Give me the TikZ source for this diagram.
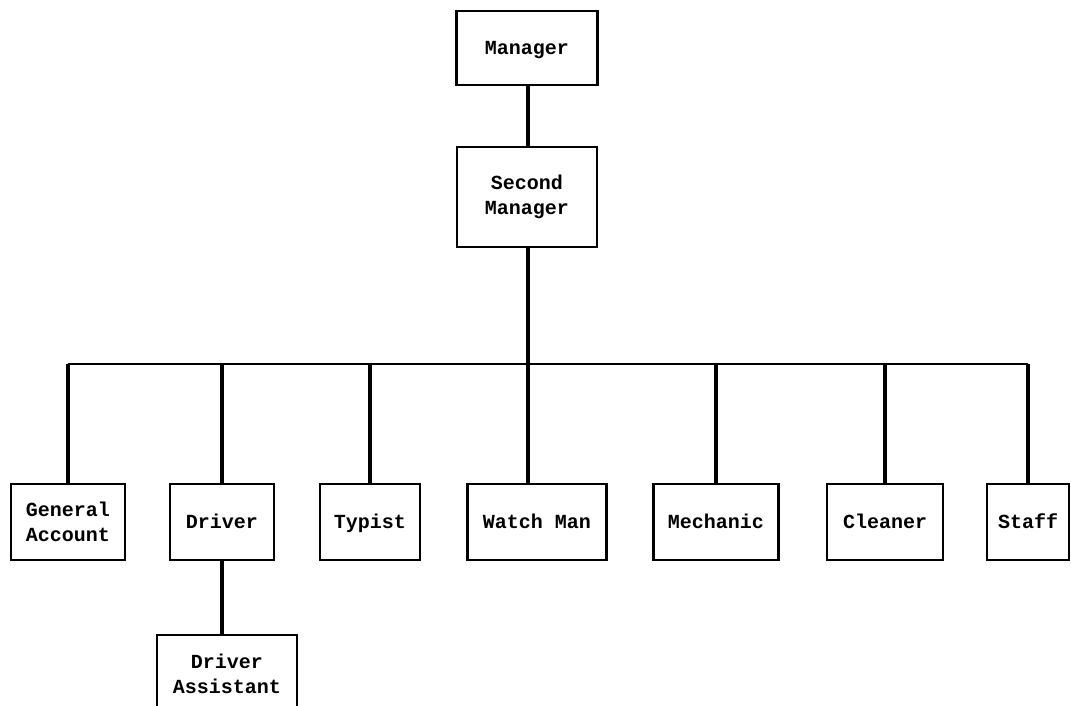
\documentclass[tikz,border=0pt]{standalone}
\usepackage{fontspec}
\setmonofont{Liberation Mono}
\begin{document}
\begin{tikzpicture}[x=1pt,y=-1pt,
  box/.style={draw=black, line width=2.4pt, fill=white, align=center, inner sep=0pt,
    font=\ttfamily\bfseries\fontsize{20}{25}\selectfont, text=black},
  one/.style={text height=14pt, text depth=1pt},
  link/.style={draw=black, line width=3.2pt}]
\useasboundingbox (0,0) rectangle (1071,706);
\clip (0,0) rectangle (1071,706);
\fill[white] (0,0) rectangle (1071,706);
% top
\node[box, one, minimum width=141pt, minimum height=74pt] (mgr) at (527,48) {Manager};
\node[box, minimum width=140pt, minimum height=100pt] (sec) at (527,197) {Second\\Manager};
\coordinate (bus) at (528,364);
% bottom row
\node[box, minimum width=114pt, minimum height=76pt] (ga) at (68,522) {General\\Account};
\node[box, one, minimum width=104pt, minimum height=76pt] (drv) at (222,522) {Driver};
\node[box, one, minimum width=100pt, minimum height=76pt] (typ) at (370,522) {Typist};
\node[box, one, minimum width=139pt, minimum height=76pt] (wm) at (537,522) {Watch Man};
\node[box, one, minimum width=125pt, minimum height=76pt] (mech) at (716,522) {Mechanic};
\node[box, one, minimum width=116pt, minimum height=76pt] (cln) at (885,522) {Cleaner};
\node[box, one, minimum width=82pt, minimum height=76pt] (stf) at (1028,522) {Staff};
\node[box, minimum width=140pt, minimum height=78pt] (da) at (227,674) {Driver\\Assistant};
% connectors
\draw[link] (mgr.south -| bus) -- (sec.north -| bus);
\draw[link] (sec.south -| bus) -- (bus);
\draw[line width=2.4pt] (ga.north |- bus) -- (stf.north |- bus);
\foreach \n in {ga,drv,typ,mech,cln,stf}{
  \draw[link] (\n.north) -- (\n.north |- bus);
}
\draw[link] (wm.north -| bus) -- (bus);
\draw[link] (drv.south) -- (drv.south |- da.north);
\end{tikzpicture}
\end{document}
